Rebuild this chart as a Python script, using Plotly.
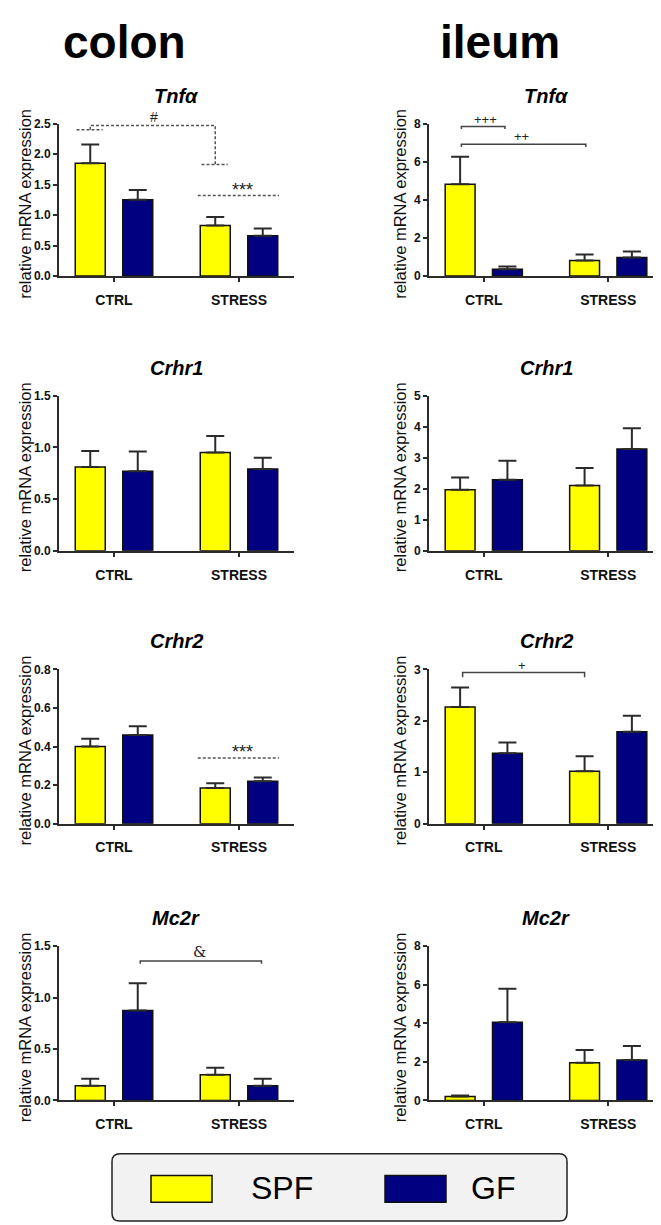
import plotly.graph_objects as go
from plotly.subplots import make_subplots

W, H = 661, 1225

# ---- data (bar height, top of error bar) ----
groups = ["CTRL", "STRESS"]
genes = ["Tnf\u03b1", "Crhr1", "Crhr2", "Mc2r"]

colon_spf = [[1.85, 0.83], [0.81, 0.95], [0.40, 0.185], [0.144, 0.25]]
colon_spf_top = [[2.16, 0.97], [0.965, 1.11], [0.44, 0.21], [0.21, 0.317]]
colon_gf = [[1.25, 0.66], [0.77, 0.79], [0.46, 0.22], [0.875, 0.144]]
colon_gf_top = [[1.41, 0.78], [0.96, 0.90], [0.505, 0.24], [1.14, 0.21]]

ileum_spf = [[4.82, 0.82], [1.97, 2.10], [2.27, 1.02], [0.2, 1.95]]
ileum_spf_top = [[6.26, 1.13], [2.36, 2.67], [2.65, 1.31], [0.26, 2.62]]
ileum_gf = [[0.36, 0.97], [2.29, 3.28], [1.37, 1.79], [4.05, 2.10]]
ileum_gf_top = [[0.5, 1.28], [2.90, 3.95], [1.58, 2.10], [5.8, 2.82]]

colon_ymax = [2.5, 1.5, 0.8, 1.5]
colon_dtick = [0.5, 0.5, 0.2, 0.5]
ileum_ymax = [8, 5, 3, 8]
ileum_dtick = [2, 1, 1, 2]

SPF_COL = "#ffff00"
GF_COL = "#000080"
AX = "#2b2b2b"
FONT = "Arial, Liberation Sans, sans-serif"

def px_x(p):
    return p / W

def px_y(p):
    return 1 - p / H

col_dom = [(51, 286), (421, 655)]
row_px = [(110, 264), (385, 542), (662, 818), (942, 1098)]

fig = make_subplots(rows=4, cols=2)

def add_panel(r, c, spf, spf_top, gf, gf_top, ymax, dtick):
    fig.add_trace(go.Bar(
        x=[0, 1], y=spf, name="SPF", offset=-0.31, width=0.24,
        marker=dict(color=SPF_COL, line=dict(color="#111", width=1.5)),
        error_y=dict(type="data", symmetric=False,
                     array=[t - v for t, v in zip(spf_top, spf)], arrayminus=[0, 0],
                     color=AX, thickness=2, width=9),
        showlegend=False), row=r, col=c)
    fig.add_trace(go.Bar(
        x=[0, 1], y=gf, name="GF", offset=0.07, width=0.24,
        marker=dict(color=GF_COL, line=dict(color="#111", width=1.5)),
        error_y=dict(type="data", symmetric=False,
                     array=[t - v for t, v in zip(gf_top, gf)], arrayminus=[0, 0],
                     color=AX, thickness=2, width=9),
        showlegend=False), row=r, col=c)
    fig.update_xaxes(domain=[px_x(col_dom[c - 1][0]), px_x(col_dom[c - 1][1])],
                     range=[-0.44, 1.44], tickvals=[0, 1], ticktext=groups,
                     showline=True, linecolor=AX, linewidth=2, ticks="outside",
                     ticklen=4, tickwidth=2, tickcolor=AX, showgrid=False, zeroline=False,
                     ticklabelstandoff=6,
                     tickfont=dict(family=FONT, size=14, color="#111", weight="bold"),
                     row=r, col=c)
    fmt = ".1f" if dtick < 1 else "d"
    fig.update_yaxes(domain=[px_y(row_px[r - 1][1]), px_y(row_px[r - 1][0])],
                     range=[0, ymax], dtick=dtick, tickformat=fmt,
                     showline=True, linecolor=AX, linewidth=2, ticks="outside",
                     ticklen=4, tickwidth=2, tickcolor=AX, showgrid=False, zeroline=False,
                     tickfont=dict(family=FONT, size=12, color="#111", weight="bold"),
                     row=r, col=c)

for i in range(4):
    add_panel(i + 1, 1, colon_spf[i], colon_spf_top[i], colon_gf[i], colon_gf_top[i],
              colon_ymax[i], colon_dtick[i])
    add_panel(i + 1, 2, ileum_spf[i], ileum_spf_top[i], ileum_gf[i], ileum_gf_top[i],
              ileum_ymax[i], ileum_dtick[i])

# axis ids: row r col c -> index 2*(r-1)+c
def ax(r, c):
    n = 2 * (r - 1) + c
    return ("x" if n == 1 else "x%d" % n), ("y" if n == 1 else "y%d" % n)

def line(r, c, xs, ys, dash=None, color="#444"):
    xa, ya = ax(r, c)
    fig.add_trace(go.Scatter(x=xs, y=ys, mode="lines", xaxis=xa, yaxis=ya,
                             line=dict(color=color, width=1.5, dash=dash),
                             hoverinfo="skip", showlegend=False))

def mark(r, c, x, y, text, size=15, family=FONT, yshift=0):
    xa, ya = ax(r, c)
    fig.add_annotation(x=x, y=y, xref=xa, yref=ya, text=text, showarrow=False,
                       yanchor="bottom", yshift=yshift,
                       font=dict(family=family, size=size, color="#222"))

DASH = "3px,2px"
# colon Tnfa: # bracket (dashed) and ***
line(1, 1, [-0.30, -0.09], [2.40, 2.40], dash=DASH, color="#555")
line(1, 1, [-0.19, -0.19, 0.81, 0.81], [2.40, 2.47, 2.47, 1.83], dash=DASH, color="#555")
line(1, 1, [0.70, 0.91], [1.83, 1.83], dash=DASH, color="#555")
mark(1, 1, 0.32, 2.47, "#", size=14, yshift=-1)
line(1, 1, [0.67, 1.32], [1.32, 1.32], dash=DASH, color="#555")
mark(1, 1, 1.03, 1.32, "***", size=18, yshift=-6)

# colon Crhr2 ***
line(3, 1, [0.67, 1.32], [0.34, 0.34], dash=DASH, color="#555")
mark(3, 1, 1.03, 0.34, "***", size=18, yshift=-6)

# colon Mc2r &
line(4, 1, [0.21, 0.21, 1.18, 1.18], [1.33, 1.356, 1.356, 1.33])
mark(4, 1, 0.68, 1.356, "&amp;", size=15, family="DejaVu Serif, serif", yshift=-2)

# ileum Tnfa +++ and ++
line(1, 2, [-0.18, -0.18, 0.17, 0.17], [7.72, 7.85, 7.85, 7.72])
mark(1, 2, 0.01, 7.85, "+++", size=13, yshift=-2)
line(1, 2, [-0.18, -0.18, 0.82, 0.82], [6.78, 6.92, 6.92, 6.78])
mark(1, 2, 0.30, 6.92, "++", size=13, yshift=-2)

# ileum Crhr2 +
line(3, 2, [-0.17, -0.17, 0.81, 0.81], [2.85, 2.94, 2.94, 2.85])
mark(3, 2, 0.31, 2.94, "+", size=13, yshift=-2)

# ---- titles ----
ann = []
ann.append(dict(x=px_x(116), y=px_y(27), text="colon",
                font=dict(family=FONT, size=46, color="#000", weight="bold")))
ann.append(dict(x=px_x(492), y=px_y(27), text="ileum",
                font=dict(family=FONT, size=46, color="#000", weight="bold")))
title_y = [82, 357, 633, 913]
for i, g in enumerate(genes):
    for cx in (168, 538):
        ann.append(dict(x=px_x(cx), y=px_y(title_y[i]), text="<i>%s</i>" % g,
                        font=dict(family=FONT, size=20, color="#000", weight="bold")))
    for lx in (17, 392):
        mid = (row_px[i][0] + row_px[i][1]) / 2 + 4
        ann.append(dict(x=px_x(lx), y=px_y(mid), text="relative mRNA expression",
                        textangle=-90,
                        font=dict(family=FONT, size=16.5, color="#111")))
for a in ann:
    fig.add_annotation(xref="paper", yref="paper", showarrow=False,
                       xanchor="center", yanchor="middle", **a)

# ---- legend box ----
def rounded(x0, y0, x1, y1, r):
    rx, ry = r / W, r / H
    X0, X1 = px_x(x0), px_x(x1)
    Y0, Y1 = px_y(y1), px_y(y0)
    return (f"M {X0+rx},{Y0} L {X1-rx},{Y0} Q {X1},{Y0} {X1},{Y0+ry} "
            f"L {X1},{Y1-ry} Q {X1},{Y1} {X1-rx},{Y1} L {X0+rx},{Y1} "
            f"Q {X0},{Y1} {X0},{Y1-ry} L {X0},{Y0+ry} Q {X0},{Y0} {X0+rx},{Y0} Z")

fig.add_shape(type="path", xref="paper", yref="paper", path=rounded(104, 1152, 559, 1220, 8),
              fillcolor="#f2f2f2", line=dict(color="#222", width=1.5))
legend_items = [("SPF", SPF_COL, 143, 274), ("GF", GF_COL, 377, 485)]
for name, colr, bx, tx in legend_items:
    fig.add_shape(type="rect", xref="paper", yref="paper",
                  x0=px_x(bx), x1=px_x(bx + 61), y0=px_y(1201), y1=px_y(1174),
                  fillcolor=colr, line=dict(color="#111", width=1.5))
    fig.add_annotation(xref="paper", yref="paper", x=px_x(tx), y=px_y(1187), text=name,
                       showarrow=False, xanchor="center", yanchor="middle",
                       font=dict(family=FONT, size=32, color="#000"))

fig.update_layout(width=W, height=H, margin=dict(l=0, r=0, t=0, b=0),
                  paper_bgcolor="white", plot_bgcolor="white", barmode="overlay",
                  showlegend=False)

fig.write_html("out.html")
